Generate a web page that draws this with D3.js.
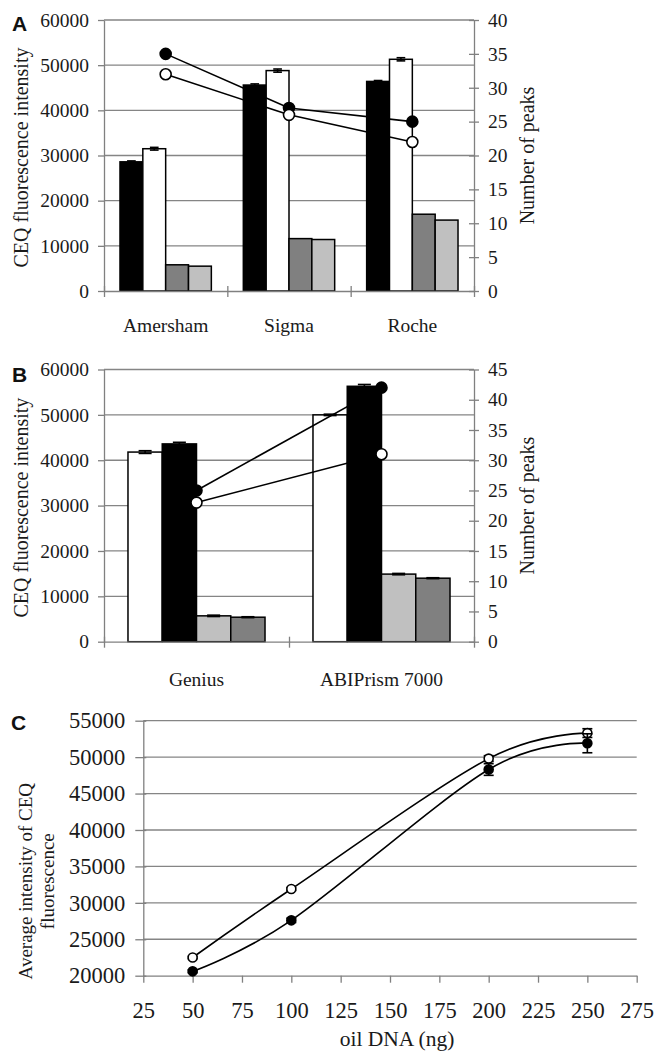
<!DOCTYPE html>
<html>
<head>
<meta charset="utf-8">
<script src="https://cdn.jsdelivr.net/npm/d3@7/dist/d3.min.js"></script>
<style>
  body { margin: 0; background: #fff; }
  svg { display: block; }
  svg text { font-family: "Liberation Serif", "Times New Roman", serif; }
  svg text.letter { font-family: "Liberation Sans", Arial, sans-serif; font-weight: bold; }
</style>
</head>
<body>
<svg id="chart" width="657" height="1057"></svg>
<script>
// ---- panel A: kits ----
const aCategories = ["Amersham", "Sigma", "Roche"];
const aBlack = [28600, 45600, 46400];
const aBlackErr = [200, 250, 200];
const aWhite = [31500, 48800, 51300];
const aWhiteErr = [300, 350, 350];
const aDarkGray = [5800, 11600, 17000];
const aLightGray = [5500, 11400, 15700];
const aPeaksFilled = [35, 27, 25];
const aPeaksOpen = [32, 26, 22];
const aLeftTicks = [0, 10000, 20000, 30000, 40000, 50000, 60000];
const aRightTicks = [0, 5, 10, 15, 20, 25, 30, 35, 40];

// ---- panel B: instruments ----
const bCategories = ["Genius", "ABIPrism 7000"];
const bWhite = [41800, 50000];
const bWhiteErr = [300, 150];
const bBlack = [43600, 56300];
const bBlackErr = [350, 400];
const bLightGray = [5700, 14900];
const bLightGrayErr = [150, 150];
const bDarkGray = [5400, 14000];
const bDarkGrayErr = [100, 100];
const bPeaksFilled = [25, 42];
const bPeaksOpen = [23, 31];
const bLeftTicks = [0, 10000, 20000, 30000, 40000, 50000, 60000];
const bRightTicks = [0, 5, 10, 15, 20, 25, 30, 35, 40, 45];

// ---- panel C: DNA amount ----
const cDna = [50, 100, 200, 250];
const cOpen = [22500, 31900, 49800, 53300];
const cOpenErr = [150, 200, 400, 600];
const cFilled = [20600, 27600, 48300, 51900];
const cFilledErr = [200, 300, 800, 1300];
const cXTicks = [25, 50, 75, 100, 125, 150, 175, 200, 225, 250, 275];
const cYTicks = [20000, 25000, 30000, 35000, 40000, 45000, 50000, 55000];

const SERIF = '"Liberation Serif", "Times New Roman", serif';
const TEXT = "#1a1a1a";
const AXIS = "#808080";
const GRID = "#858585";
const fmt = d3.format("d");

const svg = d3.select("#chart");
svg.append("rect").attr("width", 657).attr("height", 1057).attr("fill", "#fff");

function styleAxis(sel, fontSize) {
  sel.attr("font-family", SERIF).attr("font-size", fontSize).attr("color", AXIS);
  sel.selectAll(".domain").attr("stroke-width", 1.3);
  sel.selectAll(".tick line").attr("stroke-width", 1.3);
  sel.selectAll(".tick text").attr("fill", TEXT);
}

function panelLetter(txt, x, y) {
  svg.append("text").attr("class", "letter").attr("x", x).attr("y", y)
    .attr("font-size", 21).attr("fill", "#111").text(txt);
}

function rotatedTitle(txt, x, y, size) {
  svg.append("text")
    .attr("transform", `translate(${x},${y}) rotate(-90)`)
    .attr("text-anchor", "middle").attr("dy", "0.35em")
    .attr("font-size", size).attr("fill", TEXT)
    .text(txt);
}

// bar panel with left value axis and right peak axis
function barPanel(o) {
  const f = o.frame;
  const g = svg.append("g");
  const y = d3.scaleLinear().domain([0, d3.max(o.leftTicks)]).range([f.bottom, f.top]);
  const y2 = d3.scaleLinear().domain([0, d3.max(o.rightTicks)]).range([f.bottom, f.top]);
  const x = d3.scaleBand().domain(o.categories).range([f.left, f.right]);
  const xi = d3.scaleBand().domain(d3.range(o.bars.length))
    .range([0, x.bandwidth()]).paddingOuter(0.7);

  // gridlines
  g.selectAll("line.grid").data(o.leftTicks.filter(t => t > 0)).join("line")
    .attr("x1", f.left).attr("x2", f.right)
    .attr("y1", d => y(d)).attr("y2", d => y(d))
    .attr("stroke", GRID).attr("stroke-width", 1.3);

  // bars
  o.bars.forEach((s, si) => {
    g.selectAll(null).data(o.categories).join("rect")
      .attr("x", c => x(c) + xi(si))
      .attr("width", xi.bandwidth())
      .attr("y", (c, i) => y(s.values[i]))
      .attr("height", (c, i) => y(0) - y(s.values[i]))
      .attr("fill", s.fill).attr("stroke", "#000").attr("stroke-width", 1.5);
  });

  // error bars
  o.bars.forEach((s, si) => {
    if (!s.errors) return;
    const capW = xi.bandwidth() * 0.38;
    o.categories.forEach((c, i) => {
      const e = s.errors[i];
      if (!e) return;
      const cx = x(c) + xi(si) + xi.bandwidth() / 2;
      const eb = g.append("g").attr("stroke", "#000").attr("stroke-width", 1.6);
      eb.append("line").attr("x1", cx).attr("x2", cx)
        .attr("y1", y(s.values[i] - e)).attr("y2", y(s.values[i] + e));
      [s.values[i] - e, s.values[i] + e].forEach(v => {
        eb.append("line").attr("x1", cx - capW / 2).attr("x2", cx + capW / 2)
          .attr("y1", y(v)).attr("y2", y(v));
      });
    });
  });

  // peak lines
  const line = d3.line()
    .x((d, i) => x(o.categories[i]) + x.bandwidth() / 2)
    .y(d => y2(d));
  o.lines.forEach(l => {
    g.append("path").datum(l.values).attr("d", line)
      .attr("fill", "none").attr("stroke", "#000").attr("stroke-width", 1.6);
  });
  o.lines.forEach(l => {
    g.selectAll(null).data(l.values).join("circle")
      .attr("cx", (d, i) => x(o.categories[i]) + x.bandwidth() / 2)
      .attr("cy", d => y2(d)).attr("r", 5.5)
      .attr("fill", l.fill).attr("stroke", "#000").attr("stroke-width", 1.6);
  });

  // left axis
  g.append("g").attr("transform", `translate(${f.left},0)`)
    .call(d3.axisLeft(y).tickValues(o.leftTicks).tickFormat(fmt)
      .tickSize(6).tickPadding(9).tickSizeOuter(0))
    .call(s => styleAxis(s, 19.5));

  // right axis, ticks cross the line
  g.append("g").attr("transform", `translate(${f.right},0)`)
    .call(d3.axisRight(y2).tickValues(o.rightTicks).tickFormat(fmt)
      .tickSize(5).tickPadding(9).tickSizeOuter(0))
    .call(s => styleAxis(s, 19.5))
    .call(s => s.selectAll(".tick line").attr("x1", -5));

  // category boundaries
  const xb = d3.scaleLinear().domain([0, o.categories.length]).range([f.left, f.right]);
  g.append("g").attr("transform", `translate(0,${f.bottom})`)
    .call(d3.axisBottom(xb).tickValues(d3.range(o.categories.length + 1))
      .tickFormat("").tickSize(6).tickSizeOuter(0))
    .call(s => styleAxis(s, 19.5))
    .call(s => s.selectAll(".tick line").attr("y1", -5));

  // category labels
  g.append("g").attr("transform", `translate(0,${f.bottom})`)
    .call(d3.axisBottom(x).tickSize(0).tickPadding(o.labelPad))
    .call(s => styleAxis(s, 19.5))
    .call(s => s.select(".domain").remove());

  rotatedTitle("CEQ fluorescence intensity", 21, (f.top + f.bottom) / 2 + 2, 20);
  rotatedTitle("Number of peaks", 527, (f.top + f.bottom) / 2, 20);
}

// ---- panel A ----
panelLetter("A", 12, 31);
barPanel({
  frame: { left: 104, right: 474, top: 20, bottom: 291 },
  categories: aCategories,
  leftTicks: aLeftTicks,
  rightTicks: aRightTicks,
  labelPad: 27,
  bars: [
    { values: aBlack, errors: aBlackErr, fill: "#000" },
    { values: aWhite, errors: aWhiteErr, fill: "#fff" },
    { values: aDarkGray, fill: "#808080" },
    { values: aLightGray, fill: "#c0c0c0" }
  ],
  lines: [
    { values: aPeaksFilled, fill: "#000" },
    { values: aPeaksOpen, fill: "#fff" }
  ]
});

// ---- panel B ----
panelLetter("B", 12, 382);
barPanel({
  frame: { left: 104, right: 474, top: 369.5, bottom: 641.7 },
  categories: bCategories,
  leftTicks: bLeftTicks,
  rightTicks: bRightTicks,
  labelPad: 30,
  bars: [
    { values: bWhite, errors: bWhiteErr, fill: "#fff" },
    { values: bBlack, errors: bBlackErr, fill: "#000" },
    { values: bLightGray, errors: bLightGrayErr, fill: "#c0c0c0" },
    { values: bDarkGray, errors: bDarkGrayErr, fill: "#808080" }
  ],
  lines: [
    { values: bPeaksFilled, fill: "#000" },
    { values: bPeaksOpen, fill: "#fff" }
  ]
});

// ---- panel C ----
panelLetter("C", 11, 730);
(function () {
  const f = { left: 143.3, right: 636.7, top: 720.7, bottom: 975.7 };
  const g = svg.append("g");
  const x = d3.scaleLinear().domain([25, 275]).range([f.left, f.right]);
  const y = d3.scaleLinear().domain([20000, 55000]).range([f.bottom, f.top]);

  g.selectAll("line.grid").data(cYTicks.filter(t => t > 20000)).join("line")
    .attr("x1", f.left).attr("x2", f.right)
    .attr("y1", d => y(d)).attr("y2", d => y(d))
    .attr("stroke", GRID).attr("stroke-width", 1.3);

  g.append("g").attr("transform", `translate(${f.left},0)`)
    .call(d3.axisLeft(y).tickValues(cYTicks).tickFormat(fmt)
      .tickSize(8).tickPadding(10).tickSizeOuter(0))
    .call(s => styleAxis(s, 22.5))
    .call(s => s.selectAll(".tick line").attr("x2", -8).attr("x1", 3));

  g.append("g").attr("transform", `translate(0,${f.bottom})`)
    .call(d3.axisBottom(x).tickValues(cXTicks).tickFormat(fmt)
      .tickSize(7).tickPadding(19).tickSizeOuter(0))
    .call(s => styleAxis(s, 22.5));

  const series = [
    { values: cOpen, errors: cOpenErr, fill: "#fff" },
    { values: cFilled, errors: cFilledErr, fill: "#000" }
  ];
  // Excel-style smoothing: uniform Catmull-Rom
  const line = d3.line()
    .x((d, i) => x(cDna[i])).y(d => y(d))
    .curve(d3.curveCatmullRom.alpha(0));

  series.forEach(s => {
    g.append("path").datum(s.values).attr("d", line)
      .attr("fill", "none").attr("stroke", "#000").attr("stroke-width", 1.6);
  });
  series.forEach(s => {
    s.values.forEach((v, i) => {
      const cx = x(cDna[i]);
      const eb = g.append("g").attr("stroke", "#000").attr("stroke-width", 1.6);
      eb.append("line").attr("x1", cx).attr("x2", cx)
        .attr("y1", y(v - s.errors[i])).attr("y2", y(v + s.errors[i]));
      [v - s.errors[i], v + s.errors[i]].forEach(e => {
        eb.append("line").attr("x1", cx - 5).attr("x2", cx + 5)
          .attr("y1", y(e)).attr("y2", y(e));
      });
    });
    g.selectAll(null).data(s.values).join("circle")
      .attr("cx", (d, i) => x(cDna[i])).attr("cy", d => y(d)).attr("r", 4.5)
      .attr("fill", s.fill).attr("stroke", "#000").attr("stroke-width", 1.6);
  });

  // titles
  const t = svg.append("text")
    .attr("transform", `translate(25,${(f.top + f.bottom) / 2 + 33}) rotate(-90)`)
    .attr("text-anchor", "middle")
    .attr("font-size", 19).attr("fill", TEXT);
  t.append("tspan").attr("x", 0).attr("dy", "0.35em").text("Average intensity of CEQ");
  t.append("tspan").attr("x", 0).attr("dy", "1.15em").text("fluorescence");

  svg.append("text").attr("x", (f.left + f.right) / 2 + 7).attr("y", 1046)
    .attr("text-anchor", "middle")
    .attr("font-size", 21.5).attr("fill", TEXT)
    .text("oil DNA (ng)");
})();
</script>
</body>
</html>
